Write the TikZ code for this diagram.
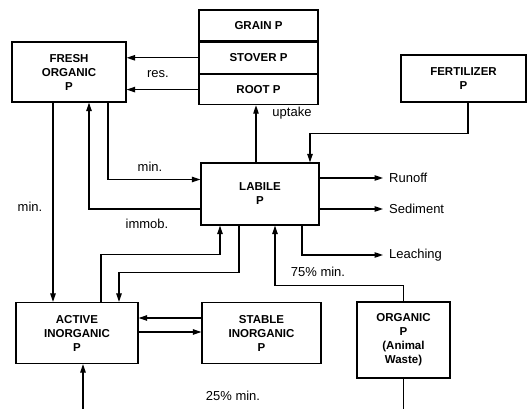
\documentclass[tikz,border=0pt]{standalone}
\usepackage{fontspec}
\setmainfont{Liberation Sans}
\usetikzlibrary{positioning,calc,arrows.meta}

\begin{document}
\begin{tikzpicture}[x=1pt,y=1pt,
  pool/.style={draw, line width=1.3pt, inner sep=0pt, align=center, font=\fontsize{11.5}{14}\selectfont\bfseries},
  flow/.style={-{Triangle[length=8.5pt,width=5.5pt]}, line width=1.1pt},
  wire/.style={line width=1.1pt},
  lbl/.style={font=\fontsize{13}{15}\selectfont}]
  \useasboundingbox (0,0) rectangle (531,409);

  % pools
  \node[pool, minimum width=114pt, minimum height=60pt] (fresh) at (69,337) {FRESH\\ORGANIC\\P};
  \node[pool, minimum width=119pt, minimum height=31pt] (grain) at (258.5,383.5) {GRAIN P};
  \node[pool, minimum width=119pt, minimum height=31pt, below=0pt of grain] (stover) {STOVER P};
  \node[pool, minimum width=119pt, minimum height=30pt, below=0pt of stover] (root) {ROOT P};
  \node[pool, minimum width=125pt, minimum height=47pt] (fert) at (463.5,330.5) {FERTILIZER\\P};
  \node[pool, minimum width=118pt, minimum height=62pt] (labile) at (260,215) {LABILE\\P};
  \node[pool, minimum width=122pt, minimum height=61pt] (active) at (77,76) {ACTIVE\\INORGANIC\\P};
  \node[pool, minimum width=119pt, minimum height=61pt] (stable) at (261.5,76) {STABLE\\INORGANIC\\P};
  \node[pool, minimum width=93pt, minimum height=76pt] (organic) at (403.5,69) {ORGANIC\\P\\(Animal\\Waste)};

  % losses
  \node[lbl, anchor=west, inner sep=6pt] (runoff) at (383,231) {Runoff};
  \node[lbl, anchor=west, inner sep=6pt] (sediment) at (383,200) {Sediment};
  \node[lbl, anchor=west, inner sep=6pt] (leaching) at (383,154) {Leaching};

  \coordinate (orgend) at (403.5,0);
  \coordinate (actin) at (83,0);

  % flows
  \draw[flow] (stover.west) -- (stover.west -| fresh.east);
  \draw[flow] (root.west) -- (root.west -| fresh.east);
  \draw[flow] ([xshift=-4pt]labile.north) -- ([xshift=-4pt]labile.north |- root.south);
  \draw[flow] ([xshift=4.5pt]fert.south) -- ++(0,-31) -| ([xshift=50pt]labile.north);
  \draw[flow] ([xshift=39pt]fresh.south) |- ([yshift=14.5pt]labile.west);
  \draw[flow] ([yshift=-15pt]labile.west) -| ([xshift=20pt]fresh.south);
  \draw[flow] ([xshift=-16pt]fresh.south) -- ([xshift=-16pt]fresh.south |- active.north);
  \draw[flow] ([xshift=24pt]active.north) -- ++(0,47) -| ([xshift=-40pt]labile.south);
  \draw[flow] ([xshift=-21pt]labile.south) -- ++(0,-46.5) -| ([xshift=42pt]active.north);
  \draw[flow] ([yshift=15pt]stable.west) -- ([yshift=15pt]stable.west -| active.east);
  \draw[flow] ([yshift=1pt]active.east) -- ([yshift=1pt]active.east -| stable.west);
  \draw[flow] (labile.east |- runoff) -- (runoff);
  \draw[flow] (labile.east |- sediment) -- (sediment);
  \draw[flow] ([xshift=42pt]labile.south) |- (leaching);
  \draw[flow] (organic.north) -- ++(0,16) -| ([xshift=15pt]labile.south);
  \draw[wire] (organic.south) -- (orgend);
  \draw[flow] (actin) -- (actin |- active.south);

  % labels
  \node[lbl] (res) at (158,335) {res.};
  \node[lbl] (upt) at (292,296) {uptake};
  \node[lbl] (minup) at (150,242) {min.};
  \node[lbl] (immob) at (147,185) {immob.};
  \node[lbl] (minleft) at (30,202) {min.};
  \node[lbl] (min75) at (318,137) {75\% min.};
  \node[lbl] (min25) at (233,13) {25\% min.};
\end{tikzpicture}
\end{document}
